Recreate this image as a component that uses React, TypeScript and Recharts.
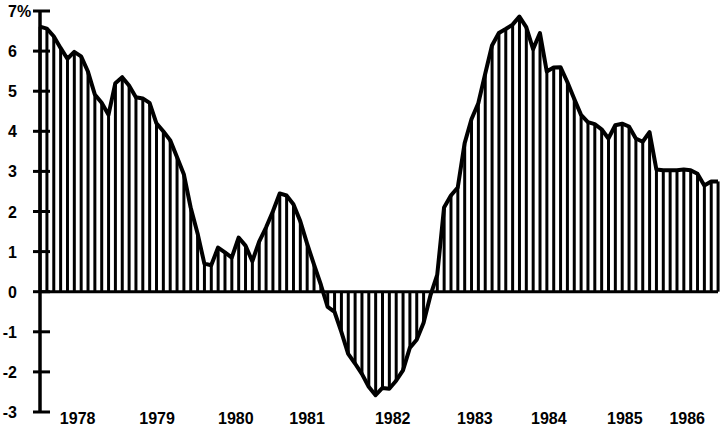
import React from "react";
import {
  ComposedChart,
  Bar,
  Line,
  XAxis,
  YAxis,
  ReferenceLine,
} from "recharts";

// monthly growth rate, % (starting early 1978)
const rates: number[] = [
  6.61, 6.56, 6.37, 6.08, 5.81, 5.98, 5.87, 5.49, 4.92, 4.71,
  4.41, 5.2, 5.35, 5.14, 4.85, 4.82, 4.71, 4.2, 4.0, 3.78,
  3.36, 2.93, 2.1, 1.46, 0.7, 0.66, 1.1, 0.98, 0.85, 1.35,
  1.15, 0.76, 1.25, 1.6, 2.0, 2.45, 2.4, 2.18, 1.76, 1.2,
  0.68, 0.18, -0.38, -0.5, -1.0, -1.55, -1.79, -2.05, -2.37, -2.58,
  -2.4, -2.42, -2.22, -1.96, -1.4, -1.2, -0.78, -0.1, 0.42, 2.1,
  2.4, 2.6, 3.7, 4.3, 4.7, 5.43, 6.14, 6.45, 6.55, 6.66,
  6.86, 6.6, 6.05, 6.45, 5.49, 5.59, 5.6, 5.23, 4.81, 4.41,
  4.23, 4.18, 4.05, 3.82, 4.15, 4.19, 4.12, 3.82, 3.74, 3.98,
  3.05, 3.03, 3.03, 3.03, 3.05, 3.03, 2.94, 2.65, 2.75, 2.75,
];

const yTicks = [-3, -2, -1, 0, 1, 2, 3, 4, 5, 6, 7];
const yearLabels = ["1978", "1979", "1980", "1981", "1982", "1983", "1984", "1985", "1986"];
// where each year label sits, in months from the start of the series
const yearPos = [5.5, 17.1, 28.6, 39, 51.5, 63.5, 74.3, 85.4, 94.5];

const data = rates.map((v, i) => ({ m: i, v }));

const FONT = "'Liberation Sans', Arial, Helvetica, sans-serif";

function YTick(props: any) {
  const { x, y, payload } = props;
  const v = payload.value;
  return (
    <g>
      <line x1={x - 7} x2={x + 10} y1={y} y2={y} stroke="#000" strokeWidth={3} />
      <text
        x={x - 23}
        y={y + 6}
        textAnchor="end"
        fontFamily={FONT}
        fontWeight="bold"
        fontSize={16}
        fill="#000"
      >
        {v}
      </text>
      {v === 7 && (
        <text x={x - 23} y={y + 6} fontFamily={FONT} fontWeight="bold" fontSize={16} fill="#000">
          %
        </text>
      )}
    </g>
  );
}

function XTick(props: any) {
  const { x, y, payload } = props;
  const idx = yearPos.indexOf(payload.value);
  return (
    <text
      x={x}
      y={y + 12}
      textAnchor="middle"
      fontFamily={FONT}
      fontWeight="bold"
      fontSize={16}
      fill="#000"
    >
      {yearLabels[idx]}
    </text>
  );
}

export default function App() {
  return (
    <div style={{ position: "absolute", left: 0, top: 0, background: "#fff" }}>
      <ComposedChart
        width={720}
        height={428}
        data={data}
        margin={{ top: 11, right: 2, bottom: 0, left: 0 }}
      >
        <XAxis
          dataKey="m"
          type="number"
          domain={[0, rates.length - 1]}
          ticks={yearPos}
          tick={<XTick />}
          axisLine={false}
          tickLine={false}
          tickSize={0}
          tickMargin={0}
          height={16}
          allowDecimals
        />
        <YAxis
          domain={[-3, 7]}
          ticks={yTicks}
          tick={<YTick />}
          tickLine={false}
          tickSize={0}
          tickMargin={0}
          width={40}
          axisLine={{ stroke: "#000", strokeWidth: 3.5 }}
          interval={0}
        />
        <ReferenceLine y={0} stroke="#000" strokeWidth={3} />
        <Bar dataKey="v" fill="#000" barSize={3} isAnimationActive={false} />
        <Line
          dataKey="v"
          type="linear"
          stroke="#000"
          strokeWidth={4}
          dot={false}
          strokeLinejoin="round"
          isAnimationActive={false}
        />
      </ComposedChart>
    </div>
  );
}
